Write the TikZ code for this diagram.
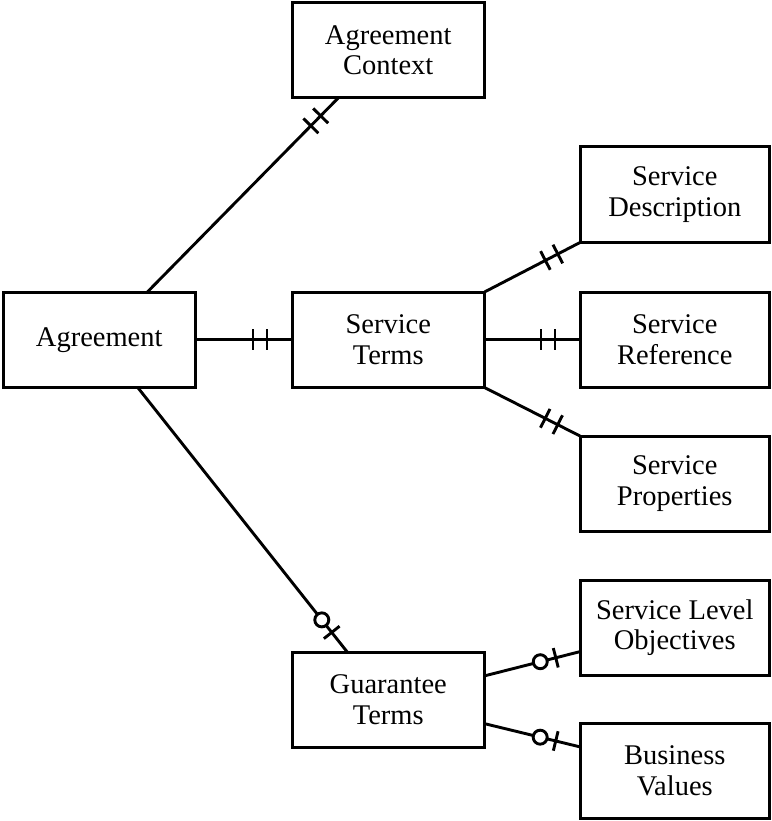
\documentclass[tikz,border=0pt]{standalone}
\usepackage{fontspec}
\setmainfont{Liberation Serif}
\usetikzlibrary{calc}

% Marks for the relationship ends: two bars (exactly one) and circle plus bar (zero or one)
\newcommand{\mandatorymark}[2]{%
  \foreach \d in {25,39} {
    \coordinate (mk) at ($(#2)!\d pt!(#1)$);
    \draw[link] ($(mk)!10.5pt!90:(#2)$) -- ($(mk)!10.5pt!-90:(#2)$);
  }}
\newcommand{\optionalmark}[2]{%
  \coordinate (mk) at ($(#2)!25pt!(#1)$);
  \draw[link] ($(mk)!10pt!90:(#2)$) -- ($(mk)!10pt!-90:(#2)$);
  \coordinate (mc) at ($(#2)!41pt!(#1)$);
  \draw[link, fill=white] (mc) circle[radius=7pt];
}

\begin{document}
\begin{tikzpicture}[x=1pt, y=-1pt,
  entity/.style={draw, line width=3pt, anchor=north west, inner sep=0pt, outer sep=0pt,
    minimum width=192.5pt, minimum height=95.5pt, align=center,
    font=\fontsize{28.5}{30.5}\selectfont},
  rentity/.style={entity, minimum width=189.5pt},
  link/.style={line width=2.9pt}]
\useasboundingbox (0,0) rectangle (771,821);

% Entities
\node[entity]  (ac)  at (292,2.5)  {Agreement\\Context};
\node[rentity] (sd)  at (580,147)  {Service\\Description};
\node[entity]  (agr) at (3,292)    {Agreement};
\node[entity]  (st)  at (292,292)  {Service\\Terms};
\node[rentity] (sr)  at (580,292)  {Service\\Reference};
\node[rentity] (sp)  at (580,436)  {Service\\Properties};
\node[rentity] (slo) at (580,580)  {Service Level\\Objectives};
\node[entity]  (gt)  at (292,652)  {Guarantee\\Terms};
\node[rentity] (bv)  at (580,723)  {Business\\Values};

% Connector end points on the box borders
\coordinate (agr-top) at ($(agr.north west)!0.75!(agr.north east)$);
\coordinate (ac-bot)  at ($(ac.south west)!0.24!(ac.south east)$);
\coordinate (agr-bot) at ($(agr.south west)!0.70!(agr.south east)$);
\coordinate (gt-top)  at ($(gt.north west)!0.287!(gt.north east)$);
\coordinate (gt-r1)   at ($(gt.north east)!0.25!(gt.south east)$);
\coordinate (gt-r2)   at ($(gt.north east)!0.75!(gt.south east)$);
\coordinate (slo-l)   at ($(slo.north west)!0.75!(slo.south west)$);
\coordinate (bv-l)    at ($(bv.north west)!0.25!(bv.south west)$);

% Relationships
\draw[link] (agr-top) -- (ac-bot);
\mandatorymark{agr-top}{ac-bot}

\draw[link] (agr.east) -- (st.west);
\mandatorymark{agr.east}{st.west}

\draw[link] (st.north east) -- (sd.south west);
\mandatorymark{st.north east}{sd.south west}

\draw[link] (st.east) -- (sr.west);
\mandatorymark{st.east}{sr.west}

\draw[link] (st.south east) -- (sp.north west);
\mandatorymark{st.south east}{sp.north west}

\draw[link] (agr-bot) -- (gt-top);
\optionalmark{agr-bot}{gt-top}

\draw[link] (gt-r1) -- (slo-l);
\optionalmark{gt-r1}{slo-l}

\draw[link] (gt-r2) -- (bv-l);
\optionalmark{gt-r2}{bv-l}
\end{tikzpicture}
\end{document}
